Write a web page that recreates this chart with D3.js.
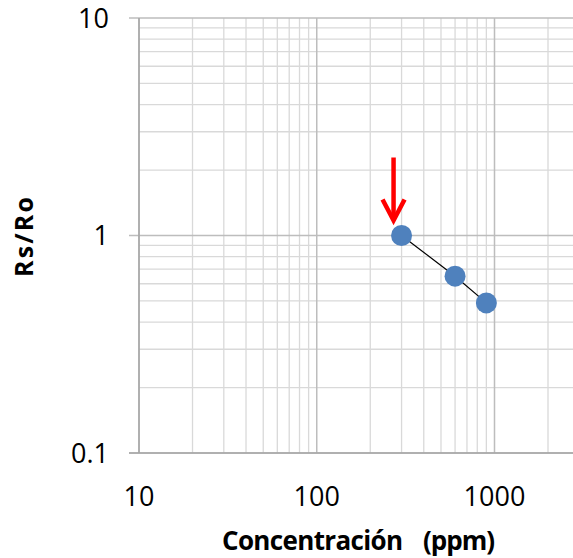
<!DOCTYPE html>
<html><head><meta charset="utf-8">
<script src="https://cdn.jsdelivr.net/npm/d3@7"></script>
<style>body{margin:0;background:#fff}svg{display:block}</style>
</head><body>
<svg id="c" width="573" height="558"></svg>
<script>
const concentrations = [300, 600, 900];
const ratios = [1, 0.65, 0.49];
const xTickLabels = [10, 100, 1000];
const yTickLabels = [0.1, 1, 10];
const xDomain = [10, 3000];
const yDomain = [0.1, 10];
const xTitleWords = ["Concentración", "(ppm)"];
const yTitle = "Rs/Ro";

const svg = d3.select("#c");
const decX = 177.75;
const x = d3.scaleLog().domain(xDomain).range([139, 139 + Math.log10(xDomain[1]/xDomain[0]) * decX]);
const y = d3.scaleLog().domain(yDomain).range([453, 18]);
const font = "'Open Sans', 'Liberation Sans', sans-serif";

const xMinor = [], yMinor = [];
for (let d = 10; d < xDomain[1]; d *= 10) for (let k = 1; k < 10; k++) if (d*k <= xDomain[1]) xMinor.push(d*k);
for (let d = 0.1; d < yDomain[1] - 1e-9; d *= 10) for (let k = 1; k < 10; k++) yMinor.push(+(d*k).toPrecision(3));
yMinor.push(10);

const g = svg.append("g");
// minor grid
g.selectAll(".vx").data(xMinor.filter(v => !xTickLabels.includes(v))).join("line")
  .attr("x1", d => x(d)).attr("x2", d => x(d)).attr("y1", y(yDomain[1])).attr("y2", y(yDomain[0]))
  .attr("stroke", "#d9d9d9").attr("stroke-width", 1.3);
g.selectAll(".hy").data(yMinor.filter(v => !yTickLabels.includes(v))).join("line")
  .attr("y1", d => y(d)).attr("y2", d => y(d)).attr("x1", x(xDomain[0])).attr("x2", 573)
  .attr("stroke", "#d9d9d9").attr("stroke-width", 1.3);
// major grid
g.selectAll(".mx").data(xTickLabels).join("line")
  .attr("x1", d => x(d)).attr("x2", d => x(d)).attr("y1", y(yDomain[1])).attr("y2", y(yDomain[0]))
  .attr("stroke", "#bdbdbd").attr("stroke-width", 1.5);
g.selectAll(".my").data(yTickLabels).join("line")
  .attr("y1", d => y(d)).attr("y2", d => y(d)).attr("x1", x(xDomain[0]) - 10).attr("x2", 573)
  .attr("stroke", "#bdbdbd").attr("stroke-width", 1.5);

// axes lines
g.append("line").attr("x1", x(xDomain[0])).attr("x2", x(xDomain[0])).attr("y1", y(yDomain[1])).attr("y2", y(yDomain[0]))
  .attr("stroke", "#a6a6a6").attr("stroke-width", 1.5);
g.append("line").attr("x1", x(xDomain[0]) - 10).attr("x2", 573).attr("y1", y(yDomain[0])).attr("y2", y(yDomain[0]))
  .attr("stroke", "#a6a6a6").attr("stroke-width", 1.5);

// tick labels
svg.selectAll(".xl").data(xTickLabels).join("text")
  .attr("x", d => x(d)).attr("y", 506).attr("text-anchor", "middle")
  .attr("font-family", font).attr("font-size", 27).attr("fill", "#000").text(d => d);
svg.selectAll(".yl").data(yTickLabels).join("text")
  .attr("x", 109).attr("y", d => y(d) + 9.5).attr("text-anchor", "end")
  .attr("font-family", font).attr("font-size", 27).attr("fill", "#000").text(d => d);

// titles
const xt = svg.append("text").attr("y", 550)
  .attr("font-family", font).attr("font-weight", "bold").attr("font-size", 26);
xt.append("tspan").attr("x", 222).attr("textLength", 181).attr("lengthAdjust", "spacing").text(xTitleWords[0]);
xt.append("tspan").text(" ");
xt.append("tspan").attr("x", 423).attr("textLength", 72).attr("lengthAdjust", "spacing").text(xTitleWords[1]);
svg.append("text").attr("transform", `translate(33,277) rotate(-90)`)
  .attr("font-family", font).attr("font-weight", "bold").attr("font-size", 25)
  .attr("textLength", 80).attr("lengthAdjust", "spacing").text(yTitle);

// trend line
const pts = concentrations.map((c, i) => [c, ratios[i]]);
svg.append("path").datum(pts)
  .attr("d", d3.line().x(d => x(d[0])).y(d => y(d[1])))
  .attr("fill", "none").attr("stroke", "#000").attr("stroke-width", 1.2);
// points
svg.selectAll(".pt").data(pts).join("circle")
  .attr("cx", d => x(d[0])).attr("cy", d => y(d[1])).attr("r", 10.5)
  .attr("fill", "#4f81bd");

// red arrow pointing to first point
const ax = x(concentrations[0]) - 8, ay = y(ratios[0]) - 15;
svg.append("line").attr("x1", ax).attr("x2", ax).attr("y1", ay - 63).attr("y2", ay - 2)
  .attr("stroke", "#ff0000").attr("stroke-width", 4.5);
svg.append("path").attr("d", `M${ax-11},${ay-21} L${ax},${ay} L${ax+11},${ay-21}`)
  .attr("fill", "none").attr("stroke", "#ff0000").attr("stroke-width", 4.5);
</script>
</body></html>
